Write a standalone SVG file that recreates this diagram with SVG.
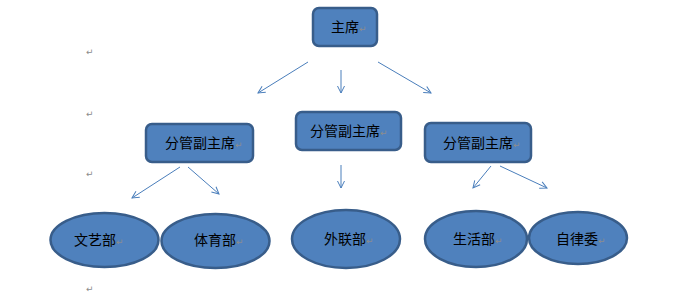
<svg xmlns="http://www.w3.org/2000/svg" width="695" height="294" viewBox="0 0 695 294">
<style>
.box{fill:#4F81BD;stroke:#385D8A;stroke-width:2.5}
.lbl{font-family:"Noto Sans CJK SC","Noto Sans",sans-serif;font-size:14px;fill:#000}
.pm{font-family:"DejaVu Sans",sans-serif;font-size:9px;fill:#8c8c8c}
.conn line{stroke:#4A7EBB;stroke-width:1;marker-end:url(#ah)}
</style>
<defs>
<marker id="ah" markerWidth="10" markerHeight="10" refX="8" refY="5" orient="auto" markerUnits="userSpaceOnUse">
<path d="M1,1.5 L8,5 L1,8.5" fill="none" stroke="#4A7EBB" stroke-width="1"/>
</marker>
</defs>
<rect width="695" height="294" fill="#fff"/>
<g id="para-marks">
<text class="pm" x="86" y="55">↵</text>
<text class="pm" x="86" y="117">↵</text>
<text class="pm" x="86" y="177">↵</text>
<text class="pm" x="86" y="292">↵</text>
</g>
<g class="conn" id="connectors">
<line x1="308" y1="62" x2="258" y2="93"/>
<line x1="341" y1="70" x2="341" y2="93"/>
<line x1="378" y1="62" x2="431" y2="93"/>
<line x1="180" y1="167" x2="132" y2="198"/>
<line x1="188" y1="167" x2="219" y2="194"/>
<line x1="341" y1="165" x2="341" y2="188"/>
<line x1="491" y1="166" x2="473" y2="188"/>
<line x1="500" y1="166" x2="547" y2="188"/>
</g>
<g id="n-chair">
<rect class="box" x="313" y="8" width="64" height="38" rx="6"/>
<text class="lbl" x="331" y="32">主席</text><text class="pm" x="359" y="32">↵</text>
</g>
<g id="n-vice1">
<rect class="box" x="146" y="124" width="107" height="38" rx="6"/>
<text class="lbl" x="165" y="148">分管副主席</text><text class="pm" x="235" y="148">↵</text>
</g>
<g id="n-vice2">
<rect class="box" x="296" y="112" width="105" height="38" rx="6"/>
<text class="lbl" x="310" y="136">分管副主席</text><text class="pm" x="380" y="136">↵</text>
</g>
<g id="n-vice3">
<rect class="box" x="425" y="123" width="106" height="39" rx="6"/>
<text class="lbl" x="443" y="148">分管副主席</text><text class="pm" x="513" y="148">↵</text>
</g>
<g id="n-wenyi">
<ellipse class="box" cx="104.5" cy="240" rx="54" ry="27"/>
<text class="lbl" x="74" y="245">文艺部</text><text class="pm" x="116" y="245">↵</text>
</g>
<g id="n-tiyu">
<ellipse class="box" cx="215.5" cy="241" rx="54" ry="27"/>
<text class="lbl" x="194" y="245">体育部</text><text class="pm" x="236" y="245">↵</text>
</g>
<g id="n-wailian">
<ellipse class="box" cx="346" cy="239" rx="54" ry="29"/>
<text class="lbl" x="324" y="244">外联部</text><text class="pm" x="366" y="244">↵</text>
</g>
<g id="n-shenghuo">
<ellipse class="box" cx="476" cy="239" rx="51" ry="28"/>
<text class="lbl" x="453" y="244">生活部</text><text class="pm" x="495" y="244">↵</text>
</g>
<g id="n-zilv">
<ellipse class="box" cx="578" cy="238" rx="49" ry="26"/>
<text class="lbl" x="556" y="244">自律委</text><text class="pm" x="598" y="244">↵</text>
</g>
</svg>
